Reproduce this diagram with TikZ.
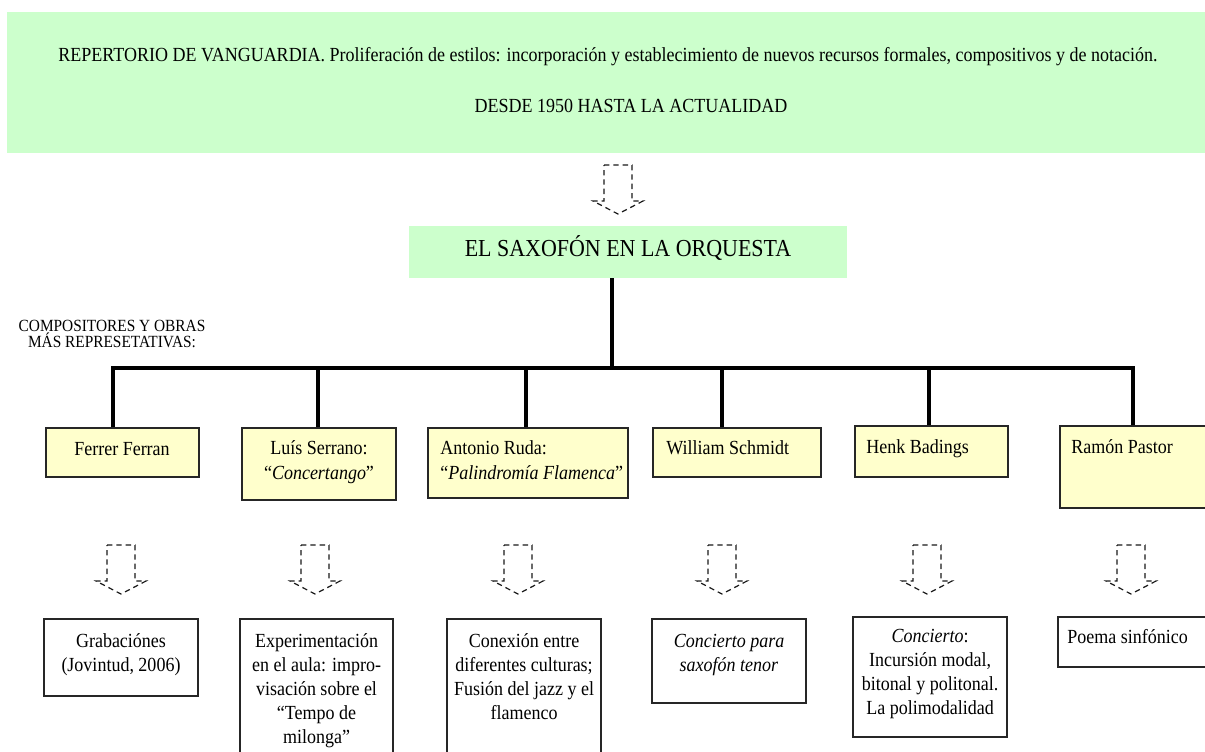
\documentclass[tikz,border=0pt]{standalone}
\usepackage{fontspec}
\setmainfont{Liberation Serif}[FakeStretch=0.9]
\usetikzlibrary{fit}
\definecolor{boxgreen}{HTML}{CCFFCC}
\definecolor{boxyellow}{HTML}{FFFFCC}
\begin{document}
\begin{tikzpicture}[x=0.75pt,y=-0.75pt,
  greenbox/.style={fill=boxgreen,draw=none,inner sep=0pt},
  yelbox/.style={fill=boxyellow,draw=black!85,line width=1.1pt,inner sep=0pt},
  whitebox/.style={fill=white,draw=black!85,line width=1.1pt,inner sep=0pt},
  txt/.style={inner sep=0pt,anchor=base,align=center,font=\fontsize{15}{18.4}\selectfont},
  ltxt/.style={inner sep=0pt,anchor=base west,align=left,font=\fontsize{15}{18.4}\selectfont},
  btxt/.style={inner sep=0pt,anchor=base,align=center,font=\fontsize{15}{18}\selectfont},
  toptxt/.style={inner sep=0pt,anchor=base,font=\fontsize{15}{15}\selectfont},
  trunk/.style={line width=3pt,draw=black,line join=miter},
  arrowline/.style={draw=black!90,line width=0.9pt,dash pattern=on 4pt off 3pt},
  hollowdown/.pic={\draw[arrowline] (-14,0) -- (14,0) -- (14,36) -- (25,36) -- (0,49) -- (-25,36) -- (-14,36) -- cycle;}
]
\useasboundingbox (0,0) rectangle (1205,751);
\fill[white] (0,0) rectangle (1205,751);

% header
\node[greenbox,fit={(7,12) (1215,153)}] (top) {};
\node[toptxt] (t1) at (608,61) {REPERTORIO DE VANGUARDIA. Proliferación de estilos: incorporación y establecimiento de nuevos recursos formales, compositivos y de notación.};
\node[toptxt] (t2) at (631,112) {DESDE 1950 HASTA LA ACTUALIDAD};

\pic (a0) at (618,165) {hollowdown};

\node[greenbox,fit={(409,226) (847,278)}] (sax) {};
\node[inner sep=0pt,anchor=base,font=\fontsize{18.3}{20}\selectfont] (saxt) at (628,256) {EL SAXOFÓN EN LA ORQUESTA};

\node[inner sep=0pt,anchor=base,align=center,font=\fontsize{12.8}{11.3}\selectfont] (comp) at (112,347) {COMPOSITORES Y OBRAS\\ MÁS REPRESETATIVAS:};

% composer boxes
\node[yelbox,fit={(46,428) (199,477)}] (b1) {};
\node[yelbox,fit={(242,428) (396,500)}] (b2) {};
\node[yelbox,fit={(428,428) (628,498)}] (b3) {};
\node[yelbox,fit={(653,428) (821,477)}] (b4) {};
\node[yelbox,fit={(855,426) (1008,477)}] (b5) {};
\node[yelbox,fit={(1060,426) (1215,508)}] (b6) {};

\node[txt] (tb1) at (122,455) {Ferrer Ferran};
\node[txt] (tb2) at (319,479.5) {Luís Serrano:\\“\textit{Concertango}”};
\node[ltxt] (tb3) at (440,479.5) {Antonio Ruda:\\“\textit{Palindromía Flamenca}”};
\node[ltxt] (tb4) at (666,454) {William Schmidt};
\node[ltxt] (tb5) at (866,453) {Henk Badings};
\node[ltxt] (tb6) at (1071,453) {Ramón Pastor};

% trunk connectors
\coordinate (stem) at (612,368);
\coordinate (barL) at (113,368);
\coordinate (barR) at (1133,368);
\coordinate (d2) at (318,368);
\coordinate (d3) at (526,368);
\coordinate (d4) at (722,368);
\coordinate (d5) at (929,368);
\draw[trunk] (stem |- sax.south) -- (stem);
\draw[trunk] (barL |- b1.north) -- (barL) -- (barR) -- (barR |- b6.north);
\foreach \d/\b in {d2/b2,d3/b3,d4/b4,d5/b5}
  \draw[trunk] (\d) -- (\d |- \b.north);

% dashed arrows
\pic (a1) at (121,545) {hollowdown};
\pic (a2) at (315,545) {hollowdown};
\pic (a3) at (518,545) {hollowdown};
\pic (a4) at (722,545) {hollowdown};
\pic (a5) at (927,545) {hollowdown};
\pic (a6) at (1131,545) {hollowdown};

% work boxes
\node[whitebox,fit={(44,619) (198,696)}] (c1) {};
\node[whitebox,fit={(240,619) (393,760)}] (c2) {};
\node[whitebox,fit={(447,619) (601,760)}] (c3) {};
\node[whitebox,fit={(652,619) (806,703)}] (c4) {};
\node[whitebox,fit={(853,617) (1007,737)}] (c5) {};
\node[whitebox,fit={(1058,617) (1215,667)}] (c6) {};

\node[btxt] (tc1) at (121,671) {Grabaciónes\\(Jovintud, 2006)};
\node[btxt] (tc2) at (316.5,743) {Experimentación\\en el aula: impro-\\visación sobre el\\“Tempo de\\milonga”};
\node[btxt] (tc3) at (524,719) {Conexión entre\\diferentes culturas;\\Fusión del jazz y el\\flamenco};
\node[btxt] (tc4) at (729,671) {\textit{Concierto para}\\\textit{saxofón tenor}};
\node[btxt] (tc5) at (930,714) {\textit{Concierto}:\\Incursión modal,\\bitonal y politonal.\\La polimodalidad};
\node[inner sep=0pt,anchor=base west,font=\fontsize{15}{18}\selectfont] (tc6) at (1067,643) {Poema sinfónico};
\end{tikzpicture}
\end{document}
